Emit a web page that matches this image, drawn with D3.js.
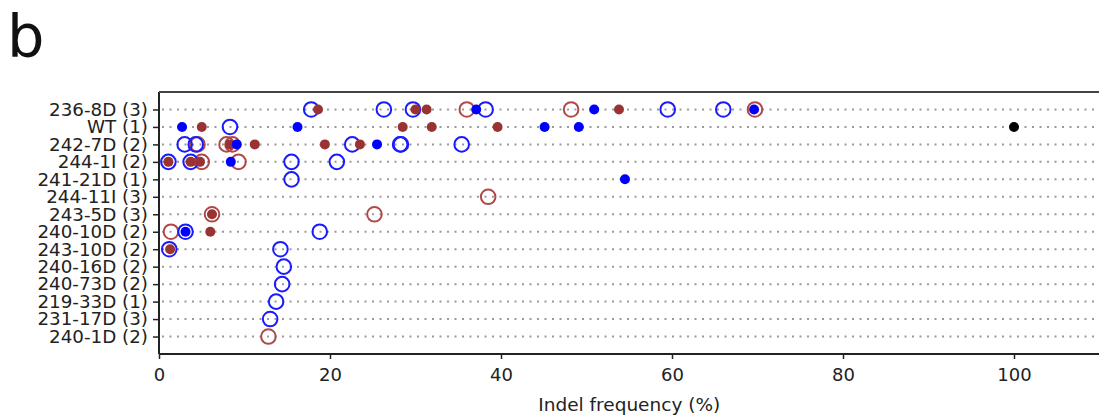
<!DOCTYPE html>
<html><head><meta charset="utf-8">
<script src="https://cdn.jsdelivr.net/npm/d3@7"></script>
<style>
body{margin:0;background:#fff;}
svg{display:block;}
</style></head>
<body>
<svg id="chart" width="1099" height="417"></svg>
<script>
const categories = ["236-8D (3)","WT (1)","242-7D (2)","244-1I (2)","241-21D (1)","244-11I (3)","243-5D (3)","240-10D (2)","243-10D (2)","240-16D (2)","240-73D (2)","219-33D (1)","231-17D (3)","240-1D (2)"];
const xTicks = [0, 20, 40, 60, 80, 100];

// values per category (same order as categories)
const blueOpen = [
  [17.8, 26.3, 29.7, 38.2, 59.5, 66.0],
  [8.3],
  [3.0, 4.3, 22.6, 28.2, 28.3, 35.4],
  [1.1, 3.7, 15.5, 20.8],
  [15.5],
  [],
  [],
  [3.1, 18.8],
  [1.2, 14.2],
  [14.6],
  [14.4],
  [13.7],
  [13.0],
  []
];
const redOpen = [
  [36.0, 48.2, 69.7],
  [],
  [4.5, 7.9, 8.6],
  [5.0, 9.3],
  [],
  [38.5],
  [6.2, 25.2],
  [1.4],
  [],
  [], [], [], [],
  [12.8]
];
const redFilled = [
  [18.6, 30.0, 31.3, 53.8],
  [5.0, 28.5, 31.9, 39.6],
  [8.3, 11.2, 19.4, 23.5],
  [1.1, 3.7, 4.8],
  [],
  [],
  [6.2],
  [6.0],
  [1.3],
  [], [], [], [], []
];
const blueFilled = [
  [37.1, 50.9, 69.6],
  [2.7, 16.2, 45.1, 49.1],
  [9.1, 25.5],
  [8.4],
  [54.5],
  [], [],
  [3.1],
  [], [], [], [], [], []
];
const blackFilled = [
  [], [100], [], [], [], [], [], [], [], [], [], [], [], []
];

const svg = d3.select("#chart");
const mL = 159, mR = 1099.5, mT = 92, mB = 354;

const x = d3.scaleLinear().domain([0, 110]).range([mL, mR]);
const y = d3.scalePoint().domain(categories).range([mT, mB]).padding(1);

const font = "DejaVu Sans, sans-serif";

// title
svg.append("text").attr("x", 7).attr("y", 57)
  .attr("font-family", "DejaVu Sans, sans-serif")
  .attr("font-size", 59).attr("fill", "#111").text("b");

// dotted row lines
svg.append("g").selectAll("line").data(categories).join("line")
  .attr("x1", mL + 3).attr("x2", mR)
  .attr("y1", d => y(d)).attr("y2", d => y(d))
  .attr("stroke", "#9a9a9a").attr("stroke-width", 2)
  .attr("stroke-dasharray", "2 5.5");

function flat(arr) {
  const out = [];
  arr.forEach((vals, i) => vals.forEach(v => out.push({cat: categories[i], v})));
  return out;
}

const g = svg.append("g");
function openMarks(arr, color) {
  g.append("g").selectAll("circle").data(flat(arr)).join("circle")
    .attr("cx", d => x(d.v)).attr("cy", d => y(d.cat)).attr("r", 7.3)
    .attr("fill", "none").attr("stroke", color).attr("stroke-width", 2);
}
function filledMarks(arr, color) {
  g.append("g").selectAll("circle").data(flat(arr)).join("circle")
    .attr("cx", d => x(d.v)).attr("cy", d => y(d.cat)).attr("r", 5)
    .attr("fill", color);
}
openMarks(redOpen, "#b04848");
openMarks(blueOpen, "#1a1aff");
filledMarks(redFilled, "#993333");
filledMarks(blueFilled, "#0000ff");
filledMarks(blackFilled, "#000000");

// axes
const xAxis = svg.append("g").attr("transform", `translate(0,${mB})`)
  .call(d3.axisBottom(x).tickValues(xTicks).tickSize(5).tickPadding(9));
const yAxis = svg.append("g").attr("transform", `translate(${mL},0)`)
  .call(d3.axisLeft(y).tickSize(6).tickPadding(5));
[xAxis, yAxis].forEach(a => {
  a.select(".domain").remove();
  a.selectAll(".tick line").attr("stroke", "#222").attr("stroke-width", 1.5);
  a.selectAll("text").attr("font-family", font).attr("fill", "#222");
});
xAxis.selectAll("text").attr("font-size", 18);
yAxis.selectAll("text").attr("font-size", 18.3);

// spines
svg.append("line").attr("x1", mL).attr("x2", mL).attr("y1", mT).attr("y2", mB)
  .attr("stroke", "#222").attr("stroke-width", 2);
svg.append("line").attr("x1", mL).attr("x2", mR).attr("y1", mT).attr("y2", mT)
  .attr("stroke", "#444").attr("stroke-width", 2);
svg.append("line").attr("x1", mL).attr("x2", mR).attr("y1", mB).attr("y2", mB)
  .attr("stroke", "#222").attr("stroke-width", 2);

// x label
svg.append("text").attr("x", (mL + mR) / 2).attr("y", 411)
  .attr("text-anchor", "middle").attr("font-family", font)
  .attr("font-size", 18.5).attr("fill", "#222").text("Indel frequency (%)");
</script>
</body></html>
